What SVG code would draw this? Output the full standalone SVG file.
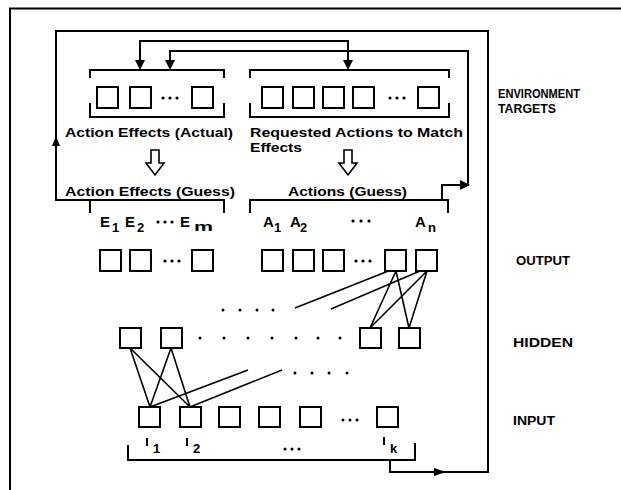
<svg xmlns="http://www.w3.org/2000/svg" width="621" height="490" viewBox="0 0 621 490">
<style>
.ln{fill:none;stroke:#000;stroke-width:2}
.th{fill:none;stroke:#000;stroke-width:1.6}
.bx{fill:#fff;stroke:#000;stroke-width:2}
.ah{fill:#000;stroke:none}
.dt{fill:#000}
.t{font-family:"Liberation Sans",Arial,sans-serif;font-weight:bold;fill:#000}
.lb{font-size:13px}
.sy{font-size:15px}
.sb{font-size:13px}
</style>
<rect width="621" height="490" fill="#fff"/>
<path class="ln" d="M10,490 V8.5 H621"/>
<g id="connectors">
<path class="ln" d="M390,460 V472 H488 V31 H56 V200 H224 V213"/>
<path class="ln" d="M90,200 V213"/>
<polygon class="ah" points="56,136 52,146 60,146"/>
<polygon class="ah" points="446,472 434,468 434,476"/>
<path class="ln" d="M140,64 V41 H348 V64"/>
<polygon class="ah" points="140,70 135,60 145,60"/>
<polygon class="ah" points="348,70 343,60 353,60"/>
<path class="ln" d="M170,64 V51 H468 V185 H442 V200"/>
<polygon class="ah" points="170,70 165,60 175,60"/>
<polygon class="ah" points="470,185 460,180 460,190"/>
<path class="th" d="M396,271 L370,328 M396,271 L409,328 M427,271 L370,328 M427,271 L409,328 M396,268 L295,308 M427,268 L331,309"/>
<path class="th" d="M130,348 L150,407 M130,348 L190,407 M171,348 L150,407 M171,348 L190,407 M150,407 L248,370 M190,407 L282,370"/>
<path class="th" fill="#fff" d="M151,150 V163 H146 L155,175 L164,163 H159 V150 Z"/>
<path class="th" fill="#fff" d="M344,150 V163 H339 L348,175 L357,163 H352 V150 Z"/>
</g>
<g id="targets-actual">
<path class="ln" d="M90,78 V70 H224 V78 M90,103 V117 H224 V103"/>
<rect class="bx" x="97" y="87" width="21" height="21"/>
<rect class="bx" x="130" y="87" width="21" height="21"/>
<circle class="dt" cx="163" cy="98" r="1.6"/><circle class="dt" cx="170" cy="98" r="1.6"/><circle class="dt" cx="177" cy="98" r="1.6"/>
<rect class="bx" x="192" y="87" width="21" height="21"/>
<text class="t lb" x="65" y="137" textLength="168" lengthAdjust="spacingAndGlyphs">Action Effects (Actual)</text>
</g>
<g id="targets-requested">
<path class="ln" d="M250,78 V70 H449 V78 M250,103 V117 H449 V103"/>
<rect class="bx" x="262" y="87" width="21" height="21"/>
<rect class="bx" x="293" y="87" width="21" height="21"/>
<rect class="bx" x="323" y="87" width="21" height="21"/>
<rect class="bx" x="353" y="87" width="21" height="21"/>
<circle class="dt" cx="390" cy="98" r="1.6"/><circle class="dt" cx="397" cy="98" r="1.6"/><circle class="dt" cx="404" cy="98" r="1.6"/>
<rect class="bx" x="418" y="87" width="21" height="21"/>
<text class="t lb" x="250" y="137" textLength="213" lengthAdjust="spacingAndGlyphs">Requested Actions to Match</text>
<text class="t lb" x="250" y="152" textLength="52" lengthAdjust="spacingAndGlyphs">Effects</text>
</g>
<g id="effects-guess">
<text class="t lb" x="65" y="196" textLength="170" lengthAdjust="spacingAndGlyphs">Action Effects (Guess)</text>
<text class="t sy" x="100" y="227">E</text><text class="t sb" x="112" y="232">1</text>
<text class="t sy" x="125" y="227">E</text><text class="t sb" x="137" y="232">2</text>
<circle class="dt" cx="158" cy="222" r="1.6"/><circle class="dt" cx="165" cy="222" r="1.6"/><circle class="dt" cx="172" cy="222" r="1.6"/>
<text class="t sy" x="180" y="227">E</text><text class="t sb" x="194" y="231" textLength="19" lengthAdjust="spacingAndGlyphs">m</text>
</g>
<g id="actions-guess">
<path class="ln" d="M250,213 V200 H448 V213"/>
<text class="t lb" x="288" y="196" textLength="119" lengthAdjust="spacingAndGlyphs">Actions (Guess)</text>
<text class="t sy" x="263" y="227">A</text><text class="t sb" x="274" y="232">1</text>
<text class="t sy" x="290" y="227">A</text><text class="t sb" x="300" y="232">2</text>
<circle class="dt" cx="353" cy="221" r="1.6"/><circle class="dt" cx="361" cy="221" r="1.6"/><circle class="dt" cx="369" cy="221" r="1.6"/>
<text class="t sy" x="415" y="227">A</text><text class="t sb" x="428" y="232">n</text>
</g>
<g id="output">
<rect class="bx" x="100" y="250" width="21" height="21"/>
<rect class="bx" x="130" y="250" width="21" height="21"/>
<circle class="dt" cx="165" cy="261" r="1.6"/><circle class="dt" cx="172" cy="261" r="1.6"/><circle class="dt" cx="179" cy="261" r="1.6"/>
<rect class="bx" x="192" y="250" width="21" height="21"/>
<rect class="bx" x="262" y="250" width="21" height="21"/>
<rect class="bx" x="293" y="250" width="21" height="21"/>
<rect class="bx" x="323" y="250" width="21" height="21"/>
<circle class="dt" cx="356" cy="261" r="1.6"/><circle class="dt" cx="363" cy="261" r="1.6"/><circle class="dt" cx="370" cy="261" r="1.6"/>
<rect class="bx" x="385" y="250" width="21" height="21"/>
<rect class="bx" x="416" y="250" width="21" height="21"/>
</g>
<g id="hidden">
<rect class="bx" x="120" y="328" width="21" height="20"/>
<rect class="bx" x="161" y="328" width="21" height="20"/>
<rect class="bx" x="360" y="328" width="21" height="20"/>
<rect class="bx" x="399" y="328" width="21" height="20"/>
<g class="dt">
<circle cx="200" cy="338" r="1.5"/><circle cx="224" cy="338" r="1.5"/><circle cx="248" cy="338" r="1.5"/><circle cx="272" cy="338" r="1.5"/><circle cx="296" cy="338" r="1.5"/><circle cx="318" cy="338" r="1.5"/><circle cx="340" cy="338" r="1.5"/>
<circle cx="223" cy="310" r="1.5"/><circle cx="240" cy="310" r="1.5"/><circle cx="257" cy="310" r="1.5"/><circle cx="273" cy="310" r="1.5"/>
<circle cx="295" cy="373" r="1.5"/><circle cx="312" cy="373" r="1.5"/><circle cx="329" cy="373" r="1.5"/><circle cx="347" cy="373" r="1.5"/>
</g>
</g>
<g id="input">
<rect class="bx" x="139" y="407" width="21" height="20"/>
<rect class="bx" x="180" y="407" width="21" height="20"/>
<rect class="bx" x="219" y="407" width="21" height="20"/>
<rect class="bx" x="259" y="407" width="21" height="20"/>
<rect class="bx" x="300" y="407" width="21" height="20"/>
<circle class="dt" cx="343" cy="420" r="1.5"/><circle class="dt" cx="350" cy="420" r="1.5"/><circle class="dt" cx="357" cy="420" r="1.5"/>
<rect class="bx" x="377" y="407" width="21" height="20"/>
<path class="ln" d="M128,445 V460 H415 V443"/>
<path class="ln" d="M147,438 V446 M187,438 V446 M384,437 V445"/>
<text class="t sb" x="153" y="453">1</text>
<text class="t sb" x="193" y="453">2</text>
<text class="t sb" x="390" y="453">k</text>
<circle class="dt" cx="285" cy="449" r="1.5"/><circle class="dt" cx="292" cy="449" r="1.5"/><circle class="dt" cx="299" cy="449" r="1.5"/>
</g>
<g id="labels">
<text class="t" font-size="12" x="498" y="98" textLength="82" lengthAdjust="spacingAndGlyphs">ENVIRONMENT</text>
<text class="t" font-size="12" x="498" y="113" textLength="58" lengthAdjust="spacingAndGlyphs">TARGETS</text>
<text class="t lb" x="516" y="265" textLength="54" lengthAdjust="spacingAndGlyphs">OUTPUT</text>
<text class="t lb" x="513" y="347" textLength="60" lengthAdjust="spacingAndGlyphs">HIDDEN</text>
<text class="t lb" x="513" y="425" textLength="42" lengthAdjust="spacingAndGlyphs">INPUT</text>
</g>
</svg>
